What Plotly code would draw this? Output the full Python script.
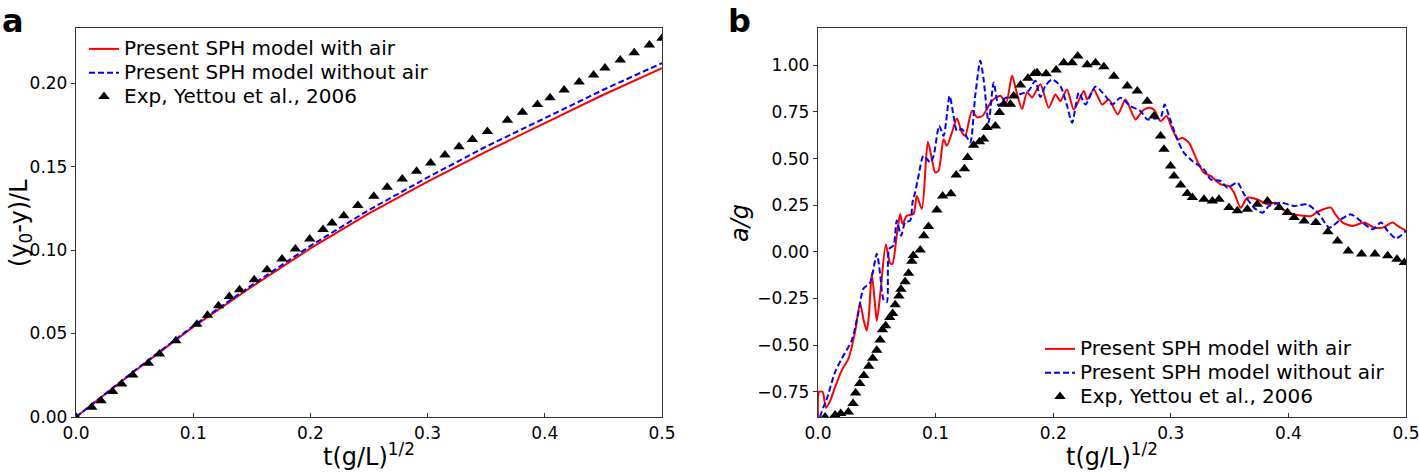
import plotly.graph_objects as go

# ---------------- Panel a data ----------------
a_t_line = [0, 0.05, 0.1, 0.15, 0.2, 0.25, 0.3, 0.35, 0.4, 0.45, 0.5]
a_red = [0, 0.0275, 0.054, 0.078, 0.101, 0.122, 0.141, 0.159, 0.176, 0.193, 0.209]
a_blue = [0, 0.0278, 0.0545, 0.079, 0.1025, 0.124, 0.1435, 0.162, 0.179, 0.196, 0.212]

a_exp_t = [0, 0.0134, 0.0214, 0.0313, 0.039, 0.0484, 0.0618, 0.0712, 0.0852, 0.1031, 0.1122,
           0.1216, 0.1308, 0.1396, 0.1521, 0.163, 0.1758, 0.1872, 0.1994, 0.2108, 0.2185,
           0.2285, 0.2405, 0.2541, 0.2655, 0.2784, 0.2906, 0.3026, 0.3148, 0.3268, 0.3382,
           0.351, 0.3681, 0.3809, 0.3937, 0.4045, 0.4165, 0.4293, 0.4416, 0.4513, 0.4644,
           0.4763, 0.4892, 0.5]
a_exp_v = [0, 0.0058, 0.0098, 0.0152, 0.0198, 0.0252, 0.0322, 0.0378, 0.0456, 0.0556, 0.061,
           0.0666, 0.0722, 0.0762, 0.0822, 0.0882, 0.0946, 0.1006, 0.1066, 0.1123, 0.1162,
           0.1206, 0.1267, 0.1322, 0.1376, 0.1426, 0.1472, 0.1522, 0.157, 0.1618, 0.1662,
           0.171, 0.1778, 0.1826, 0.1872, 0.1912, 0.1958, 0.2006, 0.2048, 0.209, 0.2138,
           0.2182, 0.2228, 0.2268]

# ---------------- Panel b data ----------------
b_red_t = [0.0, 0.0009, 0.0039, 0.0068, 0.0102, 0.0145, 0.0202, 0.0259, 0.0315, 0.0358, 0.0386,
           0.0415, 0.0435, 0.0457, 0.0486, 0.050, 0.0528, 0.0577, 0.0613, 0.0633, 0.067, 0.0699,
           0.0718, 0.0755, 0.0812, 0.084, 0.0883, 0.0934, 0.0968, 0.0997, 0.1025, 0.1068, 0.1096,
           0.1139, 0.1181, 0.1224, 0.1252, 0.1309, 0.1352, 0.140, 0.1479, 0.155, 0.160, 0.165,
           0.1693, 0.1735, 0.1778, 0.182, 0.1891, 0.1962, 0.2019, 0.2061, 0.2118, 0.2175, 0.226,
           0.2289, 0.2345, 0.2416, 0.2473, 0.2549, 0.2615, 0.270, 0.2757, 0.2814, 0.286, 0.2913,
           0.2964, 0.3013, 0.3061, 0.3098, 0.3154, 0.3225, 0.3282, 0.3339, 0.3424, 0.3495, 0.3538,
           0.3594, 0.3651, 0.3736, 0.3822, 0.3893, 0.395, 0.4049, 0.4191, 0.4262, 0.4361, 0.440,
           0.4461, 0.4546, 0.4645, 0.4731, 0.4801, 0.4886, 0.4929, 0.5]
b_red_v = [-0.885, -0.75, -0.75, -0.835, -0.80, -0.725, -0.635, -0.572, -0.43, -0.275, -0.36,
           -0.423, -0.323, -0.115, -0.29, -0.37, -0.234, 0.04, -0.06, -0.064, 0.09, 0.203,
           0.15, 0.194, 0.203, 0.30, 0.23, 0.59, 0.498, 0.426, 0.435, 0.604, 0.569,
           0.640, 0.715, 0.640, 0.622, 0.757, 0.721, 0.73, 0.81, 0.837, 0.80, 0.944,
           0.846, 0.766, 0.855, 0.828, 0.899, 0.773, 0.844, 0.808, 0.871, 0.763, 0.862,
           0.817, 0.871, 0.790, 0.817, 0.737, 0.817, 0.710, 0.754, 0.772, 0.760, 0.701,
           0.728, 0.657, 0.603, 0.612, 0.585, 0.487, 0.424, 0.407, 0.362, 0.353, 0.317,
           0.237, 0.290, 0.281, 0.255, 0.264, 0.228, 0.201, 0.192, 0.219, 0.237, 0.200,
           0.157, 0.139, 0.157, 0.130, 0.130, 0.157, 0.139, 0.112]

b_blue_t = [0.0017, 0.0045, 0.0074, 0.0145, 0.0202, 0.0287, 0.0344, 0.0386, 0.0443, 0.050, 0.0528,
            0.0557, 0.0585, 0.0605, 0.0642, 0.067, 0.0707, 0.0741, 0.0784, 0.0804, 0.0826, 0.0855,
            0.0897, 0.0954, 0.0983, 0.1031, 0.1068, 0.1119, 0.1153, 0.1181, 0.1224, 0.1266, 0.1295,
            0.1337, 0.138, 0.1408, 0.1451, 0.1494, 0.1536, 0.1579, 0.165, 0.1721, 0.1791, 0.1848,
            0.1891, 0.1933, 0.199, 0.2061, 0.2118, 0.2161, 0.2218, 0.2274, 0.2359, 0.2445, 0.2501,
            0.2572, 0.2657, 0.2743, 0.280, 0.286, 0.2913, 0.2947, 0.2985, 0.3055, 0.3112, 0.3183,
            0.3282, 0.3339, 0.3424, 0.3481, 0.3566, 0.3623, 0.3708, 0.3779, 0.3836, 0.3935, 0.4049,
            0.4162, 0.4262, 0.4347, 0.4446, 0.4532, 0.4631, 0.4716, 0.4787, 0.4844, 0.4915, 0.5]
b_blue_v = [-0.885, -0.833, -0.79, -0.644, -0.572, -0.474, -0.323, -0.198, -0.165, -0.010, -0.117,
            -0.255, -0.269, 0.016, 0.034, 0.168, 0.087, 0.159, 0.168, 0.266, 0.319, 0.408,
            0.515, 0.480, 0.515, 0.676, 0.622, 0.836, 0.729, 0.649, 0.658, 0.614, 0.587,
            0.837, 1.024, 0.926, 0.694, 0.908, 0.783, 0.819, 0.837, 0.846, 0.864, 0.917,
            0.83, 0.890, 0.924, 0.889, 0.783, 0.692, 0.853, 0.79, 0.885, 0.835, 0.790,
            0.826, 0.781, 0.754, 0.710, 0.715, 0.719, 0.790, 0.728, 0.603, 0.531, 0.487,
            0.442, 0.389, 0.380, 0.344, 0.371, 0.309, 0.237, 0.210, 0.246, 0.264, 0.246,
            0.255, 0.201, 0.130, 0.174, 0.201, 0.157, 0.121, 0.157, 0.112, 0.073, 0.112]

b_exp_t = [0.006, 0.0145, 0.0193, 0.0258, 0.0298, 0.032, 0.0355, 0.039, 0.0432, 0.0465, 0.050,
           0.0528, 0.0548, 0.0575, 0.061, 0.0635, 0.0656, 0.0688, 0.0705, 0.0741, 0.077, 0.0798,
           0.081, 0.0869, 0.090, 0.094, 0.1011, 0.106, 0.113, 0.1175, 0.1245, 0.1272, 0.1323,
           0.1373, 0.1408, 0.1437, 0.1508, 0.1543, 0.1579, 0.1636, 0.1664, 0.1721, 0.1785,
           0.1841, 0.1863, 0.194, 0.2025, 0.209, 0.2161, 0.2209, 0.2289, 0.236, 0.2431, 0.2516,
           0.263, 0.2715, 0.28, 0.2857, 0.2913, 0.2942, 0.2998, 0.3027, 0.3084, 0.314, 0.3183,
           0.3282, 0.3353, 0.341, 0.3495, 0.3566, 0.3651, 0.3736, 0.3822, 0.3921, 0.3992, 0.4049,
           0.4134, 0.4233, 0.4336, 0.4418, 0.4509, 0.4622, 0.4736, 0.4844, 0.4923, 0.4986]
b_exp_v = [-0.885, -0.874, -0.866, -0.858, -0.812, -0.757, -0.705, -0.663, -0.613, -0.570, -0.527,
           -0.472, -0.418, -0.396, -0.352, -0.330, -0.284, -0.236, -0.200, -0.160, -0.115, -0.050,
           -0.020, 0.010, 0.086, 0.136, 0.225, 0.30, 0.311, 0.412, 0.446, 0.506, 0.572,
           0.590, 0.605, 0.667, 0.675, 0.747, 0.791, 0.791, 0.836, 0.894, 0.930,
           0.956, 0.960, 0.955, 0.975, 1.014, 1.014, 1.05, 1.003, 1.014, 0.992, 0.942,
           0.889, 0.862, 0.808, 0.728, 0.621, 0.550, 0.461, 0.407, 0.359, 0.313, 0.291,
           0.282, 0.273, 0.282, 0.238, 0.220, 0.228, 0.255, 0.273, 0.238, 0.211, 0.184,
           0.166, 0.157, 0.108, 0.059, 0.005, -0.012, -0.012, -0.021, -0.039, -0.057]

LBL_RED = "Present SPH model with air"
LBL_BLUE = "Present SPH model without air"
LBL_EXP = "Exp, Yettou et al., 2006"

FONT = "DejaVu Sans"
W, H = 1419, 473
RED = "#ff0000"
BLUE = "#0000ff"


def lg(s):
    # legend text drawn at 20px while the legend row pitch follows a 16px font
    return '<span style="font-size:20px">' + s + '</span>'


fig = go.Figure()

# Panel a
fig.add_trace(go.Scatter(x=a_t_line, y=a_red, mode="lines", name=lg(LBL_RED),
                         line=dict(color=RED, width=2), xaxis="x", yaxis="y", legend="legend"))
fig.add_trace(go.Scatter(x=a_t_line, y=a_blue, mode="lines", name=lg(LBL_BLUE),
                         line=dict(color=BLUE, width=2, dash="6px,3px"), xaxis="x", yaxis="y",
                         legend="legend"))
fig.add_trace(go.Scatter(x=a_exp_t, y=a_exp_v, mode="markers", name=lg(LBL_EXP),
                         marker=dict(symbol="triangle-up", color="black", size=10),
                         xaxis="x", yaxis="y", legend="legend"))

# Panel b
fig.add_trace(go.Scatter(x=b_red_t, y=b_red_v, mode="lines", name=lg(LBL_RED),
                         line=dict(color=RED, width=2, shape="spline", smoothing=0.7),
                         xaxis="x2", yaxis="y2", legend="legend2"))
fig.add_trace(go.Scatter(x=b_blue_t, y=b_blue_v, mode="lines", name=lg(LBL_BLUE),
                         line=dict(color=BLUE, width=2, dash="6px,3px", shape="spline", smoothing=0.7),
                         xaxis="x2", yaxis="y2", legend="legend2"))
fig.add_trace(go.Scatter(x=b_exp_t, y=b_exp_v, mode="markers", name=lg(LBL_EXP),
                         marker=dict(symbol="triangle-up", color="black", size=10),
                         xaxis="x2", yaxis="y2", legend="legend2"))


def px_x(p):
    return p / W


def px_y(p):
    return (H - p) / H


AX = dict(showline=True, mirror=True, linecolor="#333333", linewidth=1.3, showgrid=False,
          zeroline=False, tickcolor="#333333", ticklen=4, tickwidth=1,
          ticklabeloverflow="allow",
          tickfont=dict(family=FONT, size=17, color="black"))

ydom = [px_y(417), px_y(28)]
LEGFONT = dict(family=FONT, size=16, color="black")
fig.update_layout(
    width=W, height=H,
    margin=dict(l=0, r=0, t=0, b=0, autoexpand=False),
    paper_bgcolor="white", plot_bgcolor="white",
    font=dict(family=FONT, color="black"),
    xaxis=dict(AX, domain=[px_x(76), px_x(662)], range=[0, 0.5], tickvals=[0, 0.1, 0.2, 0.3, 0.4, 0.5],
               tickformat=".1f", ticks="inside", anchor="y"),
    yaxis=dict(AX, domain=ydom, range=[0, 0.233], tickvals=[0, 0.05, 0.1, 0.15, 0.2],
               tickformat=".2f", ticks="outside", anchor="x"),
    xaxis2=dict(AX, domain=[px_x(818), px_x(1406)], range=[0, 0.5],
                tickvals=[0, 0.1, 0.2, 0.3, 0.4, 0.5], tickformat=".1f", ticks="inside", anchor="y2"),
    yaxis2=dict(AX, domain=ydom, range=[-0.885, 1.2],
                tickvals=[-0.75, -0.5, -0.25, 0, 0.25, 0.5, 0.75, 1.0],
                tickformat=".2f", ticks="outside", anchor="x2"),
    legend=dict(x=px_x(84), y=px_y(32), xanchor="left", yanchor="top",
                bgcolor="rgba(0,0,0,0)", font=LEGFONT, tracegroupgap=0),
    legend2=dict(x=px_x(1040), y=px_y(332), xanchor="left", yanchor="top",
                 bgcolor="rgba(0,0,0,0)", font=LEGFONT, tracegroupgap=0),
    showlegend=True,
)

ann = [
    dict(text="<b>a</b>", x=0, y=1, xanchor="left", yanchor="top", font=dict(size=32)),
    dict(text="<b>b</b>", x=px_x(726), y=1, xanchor="left", yanchor="top", font=dict(size=32)),
    dict(text="t(g/L)<sup>1/2</sup>", x=px_x(369), y=px_y(455), xanchor="center", yanchor="middle",
         font=dict(size=24)),
    dict(text="t(g/L)<sup>1/2</sup>", x=px_x(1112), y=px_y(455), xanchor="center", yanchor="middle",
         font=dict(size=24)),
    dict(text="(y<sub>0</sub>-y)/L", x=px_x(20), y=px_y(223), xanchor="center", yanchor="middle",
         textangle=-90, font=dict(size=24)),
    dict(text="<i>a/g</i>", x=px_x(740), y=px_y(223), xanchor="center", yanchor="middle",
         textangle=-90, font=dict(size=24)),
]
for a in ann:
    a.update(xref="paper", yref="paper", showarrow=False)
    a["font"] = dict(family=FONT, color="black", **a["font"])
fig.update_layout(annotations=ann)

fig.write_html("out.html",
               config={"displayModeBar": False},
               post_script="document.body.style.margin='0px';document.body.style.overflow='hidden';")
